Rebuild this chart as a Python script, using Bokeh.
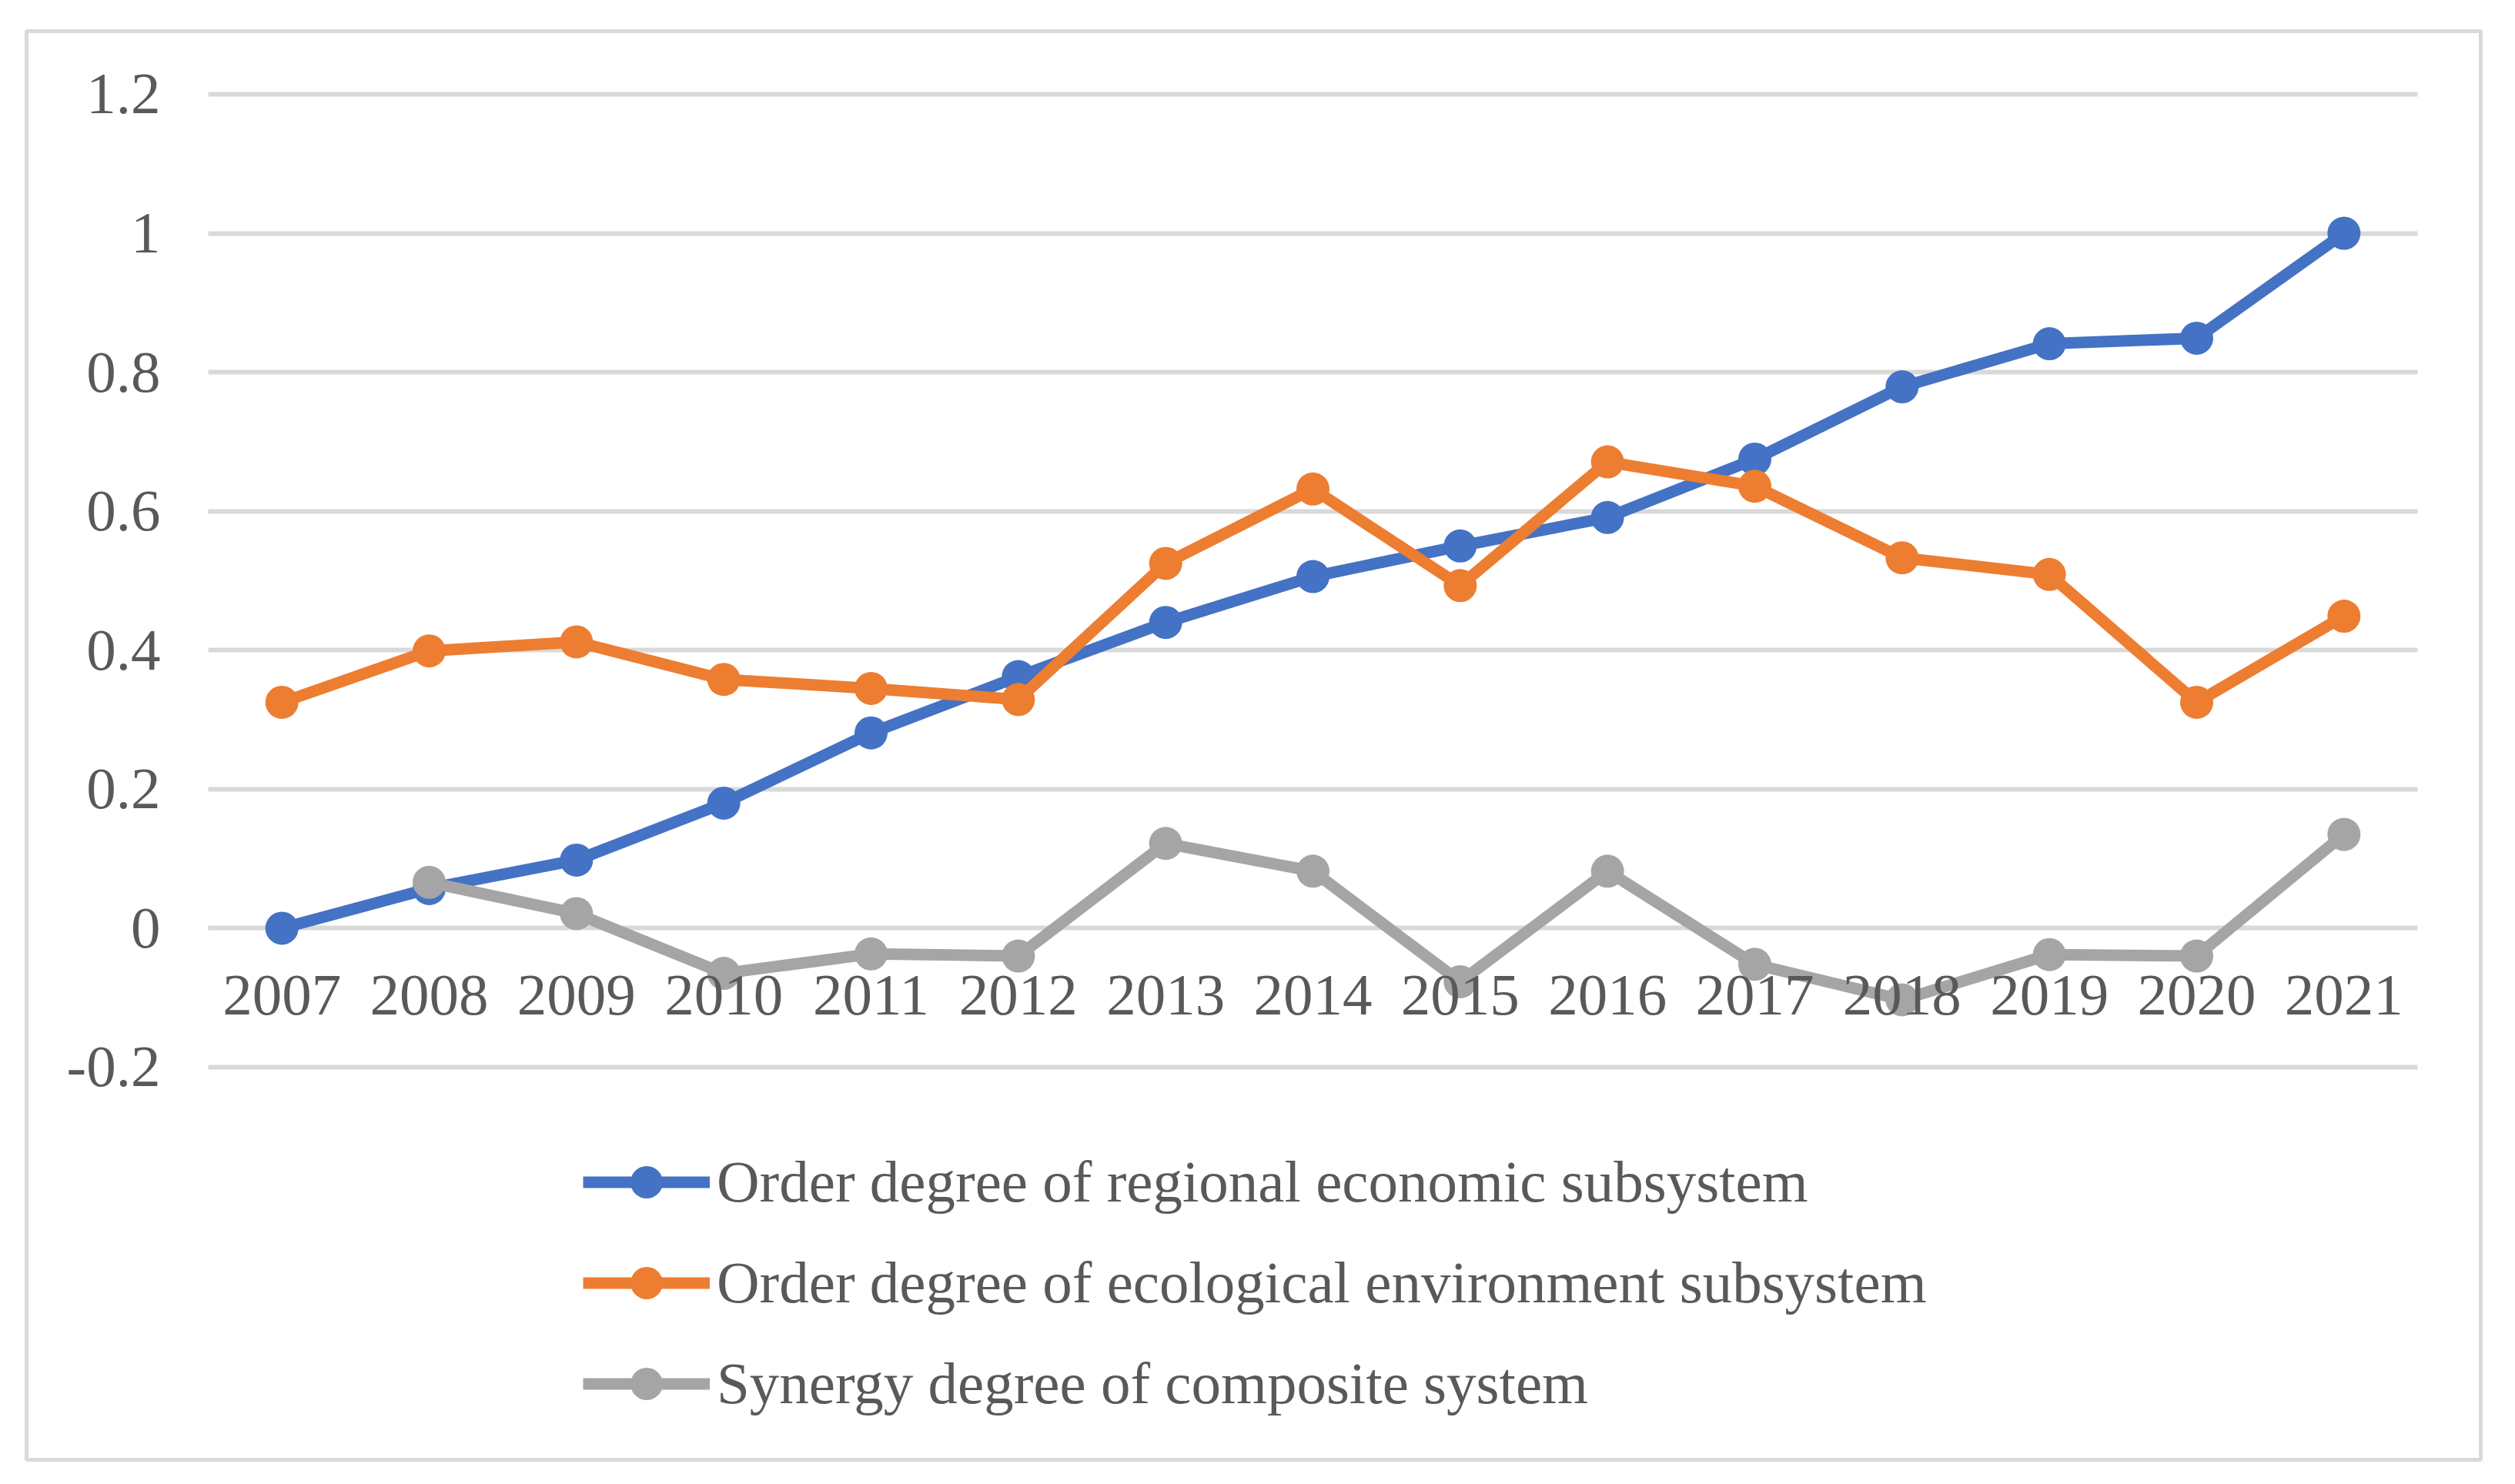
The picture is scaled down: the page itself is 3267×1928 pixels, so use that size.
from bokeh.plotting import figure
from bokeh.models import Range1d, FixedTicker, Legend, LegendItem
from bokeh.embed import file_html
from bokeh.resources import INLINE

years = [str(y) for y in range(2007, 2022)]
economic = [0.000, 0.057, 0.098, 0.180, 0.281, 0.362, 0.440, 0.506, 0.550, 0.591, 0.675, 0.779, 0.841, 0.849, 1.000]
ecological = [0.325, 0.399, 0.412, 0.358, 0.345, 0.329, 0.525, 0.632, 0.493, 0.671, 0.636, 0.533, 0.509, 0.325, 0.449]
synergy_years = years[1:]
synergy = [0.066, 0.021, -0.065, -0.037, -0.040, 0.122, 0.082, -0.077, 0.082, -0.052, -0.103, -0.038, -0.040, 0.135]

y_ticks = [-0.2, 0.0, 0.2, 0.4, 0.6, 0.8, 1.0, 1.2]
y_tick_labels = ["-0.2", "0", "0.2", "0.4", "0.6", "0.8", "1", "1.2"]

series_names = [
    "Order degree of regional economic subsystem",
    "Order degree of ecological environment subsystem",
    "Synergy degree of composite system",
]
colors = ["#4472C4", "#ED7D31", "#A5A5A5"]

FONT = "Liberation Serif"
FONT_SIZE = "77px"
TEXT_COLOR = "#595959"
GRID_COLOR = "#D9D9D9"

# category positions on a numeric scale (one unit per category)
pos = {y: i for i, y in enumerate(years)}
x_econ = [pos[y] for y in years]
x_syn = [pos[y] for y in synergy_years]
n = len(years)

p = figure(
    width=3251, height=1912,
    x_range=Range1d(-1.7335, n - 0.5 + 0.4286),
    y_range=Range1d(-0.7649, 1.2908),
    output_backend="svg", toolbar_location=None,
    min_border_left=34, min_border_right=29, min_border_top=40, min_border_bottom=16,
)
p.background_fill_color = "white"
p.border_fill_color = "white"
p.outline_line_color = GRID_COLOR
p.outline_line_alpha = 1.0
p.outline_line_width = 5

# y axis (inside the chart area, at the left edge of the category band)
p.yaxis.fixed_location = -0.5
p.yaxis.ticker = FixedTicker(ticks=y_ticks)
p.yaxis.major_label_overrides = {t: l for t, l in zip(y_ticks, y_tick_labels)}
p.yaxis.axis_line_color = None
p.yaxis.major_tick_line_color = None
p.yaxis.minor_tick_line_color = None
p.yaxis.major_tick_in = 0
p.yaxis.major_tick_out = 0
p.yaxis.major_label_standoff = 62
p.yaxis.major_label_text_font = FONT
p.yaxis.major_label_text_font_size = FONT_SIZE
p.yaxis.major_label_text_color = TEXT_COLOR

# x axis crossing at y = 0
p.xaxis.fixed_location = 0
p.xaxis.ticker = FixedTicker(ticks=x_econ)
p.xaxis.major_label_overrides = {pos[y]: y for y in years}
p.xaxis.axis_line_color = None
p.xaxis.major_tick_line_color = None
p.xaxis.minor_tick_line_color = None
p.xaxis.major_tick_in = 0
p.xaxis.major_tick_out = 0
p.xaxis.major_label_standoff = 62
p.xaxis.major_label_text_font = FONT
p.xaxis.major_label_text_font_size = FONT_SIZE
p.xaxis.major_label_text_color = TEXT_COLOR

p.xgrid.grid_line_color = None
p.ygrid.ticker = FixedTicker(ticks=y_ticks)
p.ygrid.cross_bounds = (-0.5, n - 0.5)
p.ygrid.grid_line_color = GRID_COLOR
p.ygrid.grid_line_width = 6

# series
LW = 15
MS = 43
r1l = p.line(x_econ, economic, line_color=colors[0], line_width=LW, line_join="round")
r1s = p.scatter(x_econ, economic, size=MS, fill_color=colors[0], line_color=None)
r2l = p.line(x_econ, ecological, line_color=colors[1], line_width=LW, line_join="round")
r2s = p.scatter(x_econ, ecological, size=MS, fill_color=colors[1], line_color=None)
r3l = p.line(x_syn, synergy, line_color=colors[2], line_width=LW, line_join="round")
r3s = p.scatter(x_syn, synergy, size=MS, fill_color=colors[2], line_color=None)

legend = Legend(
    items=[
        LegendItem(label=series_names[0], renderers=[r1l, r1s]),
        LegendItem(label=series_names[1], renderers=[r2l, r2s]),
        LegendItem(label=series_names[2], renderers=[r3l, r3s]),
    ],
    location=(723, 46),
    orientation="vertical",
    glyph_width=165, glyph_height=105, spacing=26,
    padding=0, margin=0, label_standoff=9,
    border_line_color=None, background_fill_alpha=0,
    label_text_font=FONT, label_text_font_size=FONT_SIZE, label_text_color=TEXT_COLOR,
)
p.add_layout(legend)

open("out.html", "w").write(file_html(p, INLINE))
